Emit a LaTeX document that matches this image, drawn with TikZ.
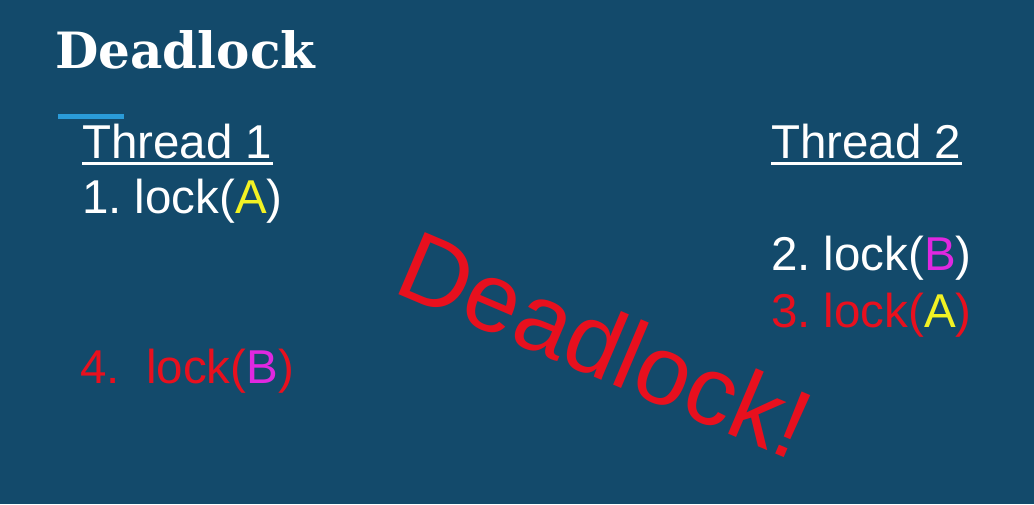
\documentclass[tikz,border=0pt]{standalone}
\usepackage{fontspec}
\setmainfont{Liberation Sans}
\newfontfamily\titlefont{DejaVu Serif}
\definecolor{bg}{HTML}{134A6B}
\definecolor{accent}{HTML}{2A9BD8}
\definecolor{lockred}{HTML}{E8101E}
\definecolor{lockyel}{HTML}{F2F224}
\definecolor{lockmag}{HTML}{E028E0}
\frenchspacing
\begin{document}
\begin{tikzpicture}[x=1pt,y=-1pt,
  txt/.style={inner sep=0pt,anchor=base west,font=\fontsize{47.5}{56}\selectfont},
  uline/.style={white,line width=3pt}]
\fill[bg] (0,0) rectangle (1034,504);
\useasboundingbox (0,0) rectangle (1034,504);
\node[inner sep=0pt,anchor=base west,text=white,font=\titlefont\bfseries\fontsize{50}{58}\selectfont] (title) at (55,68) {Deadlock};
\coordinate (barL) at (58,116);
\coordinate (barR) at (124,116);
\draw[accent,line width=5pt] (barL) -- (barR);
\node[txt,text=white] (t1) at (82,158) {Thread 1};
\draw[uline] ([yshift=-5pt]t1.base west) -- ([yshift=-5pt]t1.base east);
\node[txt,text=white] (t2) at (771,158) {Thread 2};
\draw[uline] ([yshift=-5pt]t2.base west) -- ([yshift=-5pt]t2.base east);
\node[txt,text=white] (s1) at (82,213) {1. lock(\textcolor{lockyel}{A})};
\node[txt,text=white] (s2) at (771,270) {2. lock(\textcolor{lockmag}{B})};
\node[txt,text=lockred] (s3) at (771,327) {3. lock(\textcolor{lockyel}{A})};
\node[txt,text=lockred] (s4) at (80,383) {4.\ \ lock(\textcolor{lockmag}{B})};
\node[inner sep=0pt,text=lockred,rotate=-23,font=\fontsize{98}{110}\selectfont] (dl) at (606,344) {Deadlock!};
\end{tikzpicture}
\end{document}
